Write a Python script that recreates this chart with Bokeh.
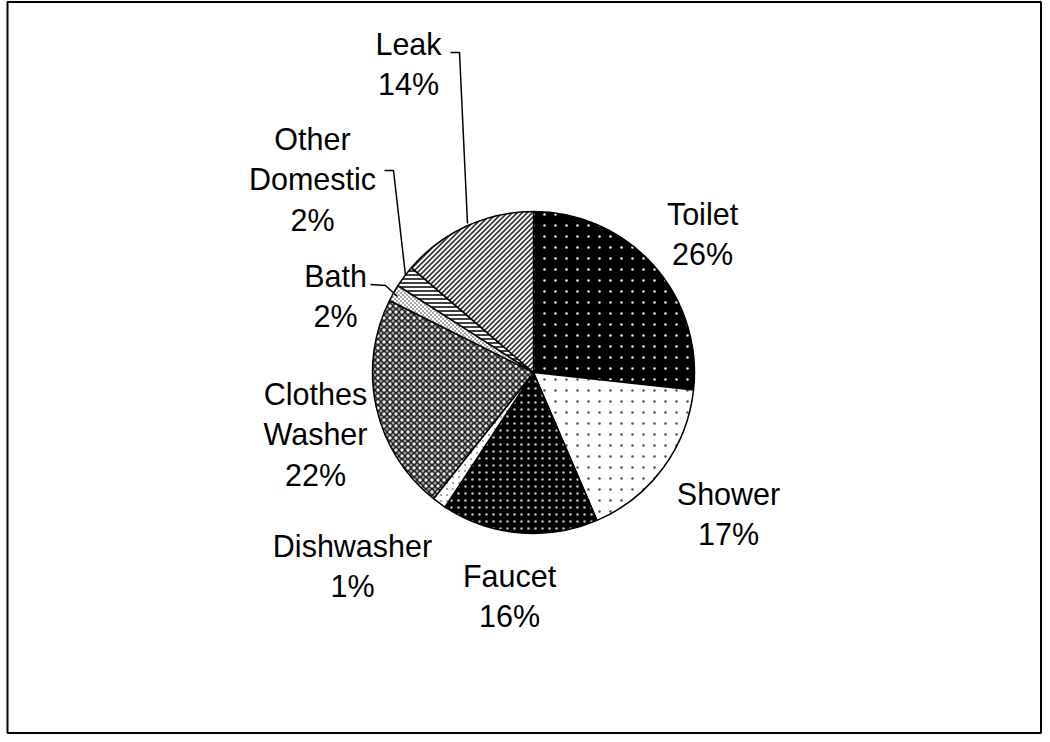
import math
import base64
from bokeh.plotting import figure
from bokeh.models import Range1d, ColumnDataSource, ImageURLTexture
from bokeh.core.properties import value
from bokeh.embed import file_html
from bokeh.resources import INLINE

# ---- data ----
categories = ["Toilet", "Shower", "Faucet", "Dishwasher", "Clothes Washer", "Bath", "Other Domestic", "Leak"]
shares = [26.7, 16.8, 15.7, 1.4, 21.7, 1.7, 2.2, 13.7]
pct_labels = ["26%", "17%", "16%", "1%", "22%", "2%", "2%", "14%"]

# ---- layout / styles ----
W, H = 1045, 738

def X(ax):
    return ax

def Y(ay):
    return H - ay

CX, CY, R = 533, 372, 161


def svg_uri(svg):
    return "data:image/svg+xml;base64," + base64.b64encode(svg.encode()).decode()


tiles = {
    "t_toilet": svg_uri('<svg xmlns="http://www.w3.org/2000/svg" width="11" height="11">'
                        '<rect width="11" height="11" fill="black"/>'
                        '<circle cx="5.5" cy="5.5" r="1.3" fill="#e8e8e8"/></svg>'),
    "t_shower": svg_uri('<svg xmlns="http://www.w3.org/2000/svg" width="11" height="11">'
                        '<rect width="11" height="11" fill="white"/>'
                        '<circle cx="5.5" cy="5.5" r="1.3" fill="#555555"/></svg>'),
    "t_faucet": svg_uri('<svg xmlns="http://www.w3.org/2000/svg" width="7" height="7">'
                        '<rect width="7" height="7" fill="black"/>'
                        '<circle cx="3.5" cy="3.5" r="1.3" fill="#bbbbbb"/></svg>'),
    "t_dish": svg_uri('<svg xmlns="http://www.w3.org/2000/svg" width="6" height="6">'
                      '<rect width="6" height="6" fill="white"/>'
                      '<circle cx="3" cy="3" r="1.0" fill="#888888"/></svg>'),
    "t_washer": svg_uri('<svg xmlns="http://www.w3.org/2000/svg" width="6" height="6">'
                        '<rect width="6" height="6" fill="#222222"/>'
                        '<circle cx="0" cy="0" r="1.7" fill="#f0f0f0"/>'
                        '<circle cx="6" cy="0" r="1.7" fill="#f0f0f0"/>'
                        '<circle cx="0" cy="6" r="1.7" fill="#f0f0f0"/>'
                        '<circle cx="6" cy="6" r="1.7" fill="#f0f0f0"/>'
                        '<circle cx="3" cy="3" r="1.5" fill="#a0a0a0"/></svg>'),
    "t_bath": svg_uri('<svg xmlns="http://www.w3.org/2000/svg" width="4" height="4">'
                      '<rect width="4" height="4" fill="white"/>'
                      '<rect x="0" y="0" width="2" height="2" fill="#aaaaaa"/>'
                      '<rect x="2" y="2" width="2" height="2" fill="#aaaaaa"/></svg>'),
    "t_leak": svg_uri('<svg xmlns="http://www.w3.org/2000/svg" width="5" height="5">'
                      '<rect width="5" height="5" fill="white"/>'
                      '<g stroke="#333333" stroke-width="1.6">'
                      '<line x1="-1" y1="6" x2="6" y2="-1"/>'
                      '<line x1="-1" y1="1" x2="1" y2="-1"/>'
                      '<line x1="4" y1="6" x2="6" y2="4"/></g></svg>'),
}
hatch_extra = {k: ImageURLTexture(url=u, repetition="repeat") for k, u in tiles.items()}

fills = ["black", "white", "black", "white", "#555555", "#d5d5d5", "white", "white"]
hpat = ["t_toilet", "t_shower", "t_faucet", "t_dish", "t_washer", "t_bath", "horizontal_line", "t_leak"]
hcol = ["black"] * len(categories)
hscale = [11, 11, 7, 6, 6, 4, 4, 5]
hweight = [1, 1, 1, 1, 1, 1, 1.5, 1]

label_pos = {
    "Toilet": (702, 213),
    "Shower": (728, 493),
    "Faucet": (509, 575),
    "Dishwasher": (352, 545),
    "Clothes Washer": (315, 393),
    "Bath": (335, 275),
    "Other Domestic": (312, 138),
    "Leak": (408, 43),
}
LINE_H = 40.5

leaders = {
    "Leak": [(450, 52), (459, 52), (467, 223)],
    "Other Domestic": [(384, 170), (393, 170), (405, 275)],
    "Bath": [(370, 284), (385, 285), (397, 296)],
}

total = sum(shares)
starts, ends = [], []
cum = 0.0
for s in shares:
    a0 = math.pi / 2 - 2 * math.pi * cum / total
    cum += s
    a1 = math.pi / 2 - 2 * math.pi * cum / total
    starts.append(a1)
    ends.append(a0)

src = ColumnDataSource(dict(
    x=[X(CX)] * len(shares), y=[Y(CY)] * len(shares),
    start=starts, end=ends, fill=fills, hp=hpat, hc=hcol, hs=hscale, hw=hweight,
))

p = figure(width=W, height=H, x_range=Range1d(0, W), y_range=Range1d(0, H),
           output_backend="svg", toolbar_location=None, min_border=0)
p.axis.visible = False
p.grid.visible = False
p.outline_line_color = None
p.background_fill_color = "white"
p.border_fill_color = "white"

# outer chart frame
p.quad(left=[7], right=[1040.5], top=[Y(1.5)], bottom=[Y(732.5)],
       fill_color=None, line_color="black", line_width=2)

p.wedge(x="x", y="y", radius=R, start_angle="start", end_angle="end", source=src,
        fill_color="fill", line_color="black", line_width=1.5,
        hatch_pattern="hp", hatch_color="hc", hatch_scale="hs", hatch_weight="hw",
        hatch_extra=hatch_extra)

for name, pts in leaders.items():
    p.line([X(a) for a, b in pts], [Y(b) for a, b in pts], line_color="black", line_width=1.5)

tx, ty, tt = [], [], []
for name, pct in zip(categories, pct_labels):
    lx, ly = label_pos[name]
    lines = name.split(" ") + [pct]
    for i, ln in enumerate(lines):
        tx.append(X(lx))
        ty.append(Y(ly + i * LINE_H))
        tt.append(ln)

p.text(x=tx, y=ty, text=tt, text_align="center", text_baseline="alphabetic",
       text_font=value("Liberation Sans"), text_font_size="30.5px", text_color="black")

open("out.html", "w").write(file_html(p, INLINE))
